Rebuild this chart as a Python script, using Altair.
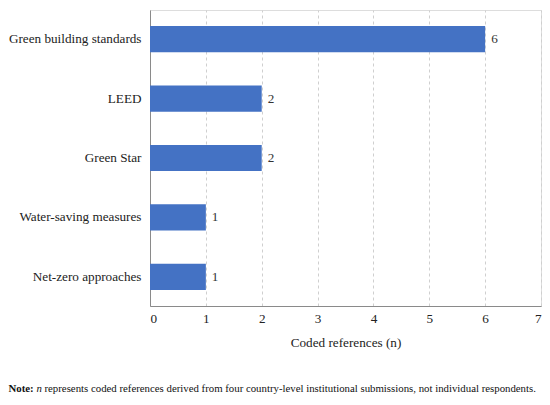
import altair as alt
import pandas as pd

categories = ["Green building standards", "LEED", "Green Star", "Water-saving measures", "Net-zero approaches"]
values = [6, 2, 2, 1, 1]
x_ticks = [0, 1, 2, 3, 4, 5, 6, 7]

note_bold = "Note:"
note_italic = "n"
note_rest = "represents coded references derived from four country-level institutional submissions, not individual respondents."

df = pd.DataFrame({"category": categories, "value": values})

FONT = "Liberation Serif, Times New Roman, serif"
FS = 13.2
NFS = 10.8

x_enc = alt.X(
    "value:Q",
    scale=alt.Scale(domain=[0, 7], nice=False),
    axis=alt.Axis(
        values=x_ticks, title="Coded references (n)", grid=True,
        gridDash=[3, 3], gridColor="#cfcfcf", gridWidth=1,
        domainColor="#8a8a8a", ticks=False, labelPadding=6,
        labelFont=FONT, labelFontSize=FS, labelColor="#222",
        titleFont=FONT, titleFontSize=FS, titleFontWeight="normal",
        titleColor="#222", titlePadding=12, format="d",
    ),
)
y_enc = alt.Y(
    "category:N", sort=None,
    scale=alt.Scale(paddingInner=0.56, paddingOuter=0.27),
    axis=alt.Axis(
        title=None, ticks=False, domainColor="#8a8a8a", labelPadding=9,
        labelFont=FONT, labelFontSize=FS, labelColor="#222", labelLimit=300,
    ),
)

base = alt.Chart(df)
bars = base.mark_bar(color="#4472C4").encode(x=x_enc, y=y_enc)
labels = base.mark_text(align="left", baseline="middle", dx=6, font=FONT, fontSize=FS, color="#333").encode(
    x="value:Q", y=alt.Y("category:N", sort=None), text="value:Q"
)

note_y = 382
x0 = -141.5
x1 = x0 + 2.582 * NFS
x2 = x1 + 0.75 * NFS
n1 = alt.Chart(pd.DataFrame({"t": [note_bold]})).mark_text(
    align="left", baseline="alphabetic", font=FONT, fontSize=NFS, fontWeight="bold", color="#111"
).encode(x=alt.value(x0), y=alt.value(note_y), text="t:N")
n2 = alt.Chart(pd.DataFrame({"t": [note_italic]})).mark_text(
    align="left", baseline="alphabetic", font=FONT, fontSize=NFS, fontStyle="italic", color="#111"
).encode(x=alt.value(x1), y=alt.value(note_y), text="t:N")
n3 = alt.Chart(pd.DataFrame({"t": [note_rest]})).mark_text(
    align="left", baseline="alphabetic", font=FONT, fontSize=NFS, color="#111"
).encode(x=alt.value(x2), y=alt.value(note_y), text="t:N")

chart = alt.layer(bars, labels, n1, n2, n3).properties(
    width=391, height=296,
    autosize=alt.AutoSizeParams(type="none"),
    padding={"left": 142, "top": 2, "right": 1, "bottom": 90},
).configure_view(stroke=None).configure(background="white")

chart.save("out.html", embed_options={"renderer": "svg", "actions": False})
